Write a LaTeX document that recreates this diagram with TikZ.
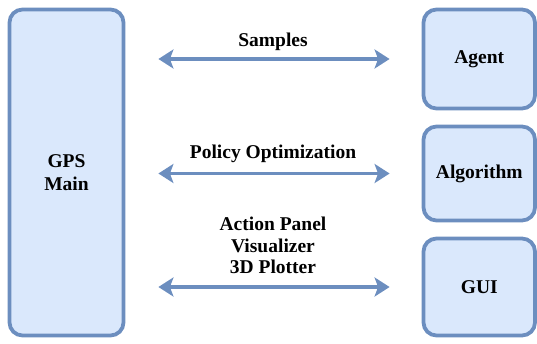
\documentclass[tikz,border=0pt]{standalone}
\usepackage{fontspec}
\setmainfont{Liberation Serif}
\usetikzlibrary{arrows.meta}
\definecolor{boxfill}{HTML}{DAE8FC}
\definecolor{boxline}{HTML}{6C8EBF}
\begin{document}
\begin{tikzpicture}[x=1pt,y=-1pt,
  box/.style={draw=boxline, fill=boxfill, line width=3.8pt, rounded corners=13pt,
    inner sep=0pt, align=center, font=\bfseries\fontsize{19.5}{22.5}\selectfont},
  conn/.style={draw=boxline, line width=3.3pt, {Stealth[length=15pt,width=19pt,inset=3.5pt]}-{Stealth[length=15pt,width=19pt,inset=3.5pt]},
    shorten <=33pt, shorten >=32pt},
  lbl/.style={inner sep=0pt, align=center, font=\bfseries\fontsize{19.5}{21.5}\selectfont}]
\useasboundingbox (0,0) rectangle (537,343);
\node[box, minimum width=114pt, minimum height=326pt] (main) at (66.5,172.5) {GPS\\Main};
\node[box, minimum width=111.5pt, minimum height=99pt] (agent) at (479.25,59) {Agent};
\node[box, minimum width=111.5pt, minimum height=94pt] (algo) at (479.25,173.5) {Algorithm};
\node[box, minimum width=111.5pt, minimum height=97pt] (gui) at (479.25,287) {GUI};
\draw[conn] (main.east |- agent.west) -- (agent.west);
\draw[conn] (main.east |- algo.west) -- (algo.west);
\draw[conn] (main.east |- gui.west) -- (gui.west);
\node[lbl, anchor=base] (l1) at (273,46) {Samples};
\node[lbl, anchor=base] (l2) at (273,158) {Policy Optimization};
\node[lbl, anchor=center] (l3) at (273,245.5) {Action Panel\\Visualizer\\3D Plotter};
\end{tikzpicture}
\end{document}
